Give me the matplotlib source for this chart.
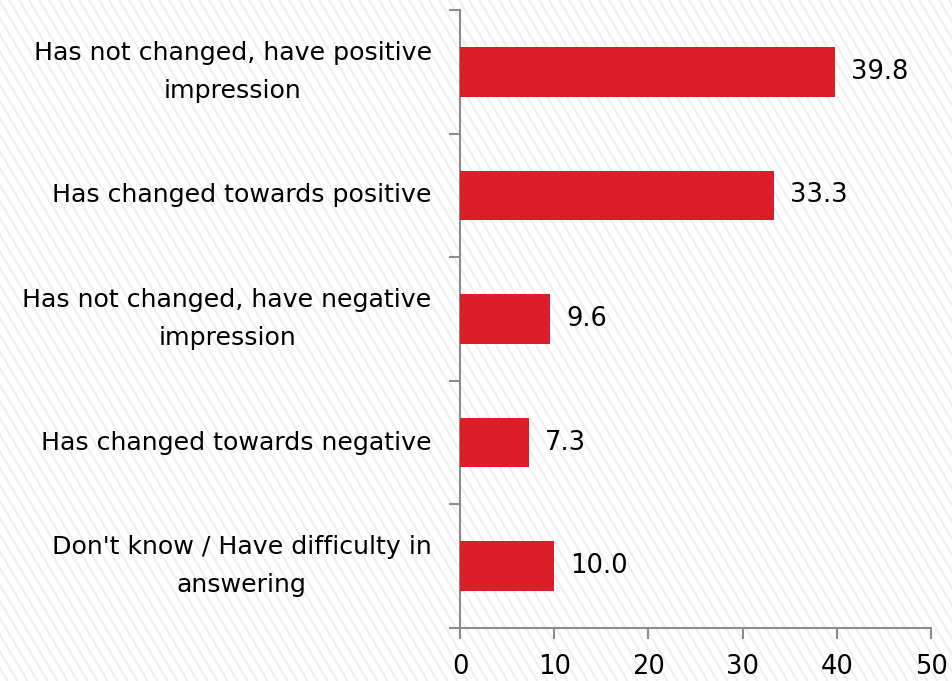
import matplotlib
matplotlib.use("Agg")
import matplotlib.pyplot as plt
import numpy as np

categories = [
    "Has not changed, have positive\nimpression",
    "Has changed towards positive",
    "Has not changed, have negative\nimpression",
    "Has changed towards negative",
    "Don't know / Have difficulty in\nanswering",
]
values = [39.8, 33.3, 9.6, 7.3, 10.0]
xticks = [0, 10, 20, 30, 40, 50]

plt.rcParams['font.family'] = ['DejaVu Sans']

W, H = 952, 681
fig = plt.figure(figsize=(W / 100, H / 100), dpi=100)
fig.patch.set_facecolor("white")

# background diagonal stripes
bg = fig.add_axes([0, 0, 1, 1], zorder=-10)
bg.set_xlim(0, W)
bg.set_ylim(H, 0)
bg.axis("off")
for s in np.arange(-H, W + 20, 10):
    bg.plot([s, s + H * 0.6], [0, H], color="#efefef", lw=1.5, solid_capstyle="butt")

ax = fig.add_axes([460 / W, 1 - 628 / H, (931 - 460) / W, (628 - 10) / H])
ax.patch.set_alpha(0)
n = len(categories)
y = np.arange(n)
ax.barh(y, values, height=0.4, color="#da1f28", zorder=3)
ax.set_ylim(n - 0.5, -0.5)
ax.set_xlim(0, 50)
ax.set_xticks(xticks)
ax.set_xticklabels([str(t) for t in xticks], fontsize=18.5)
ax.set_yticks(np.arange(-0.5, n, 1.0))
ax.set_yticklabels([])
ax.tick_params(axis="y", length=8, color="#8c8c8c", width=1.5, direction="out")
ax.tick_params(axis="x", length=8, color="#8c8c8c", width=1.5, direction="out", pad=11)
for sp in ["top", "right"]:
    ax.spines[sp].set_visible(False)
for sp in ["left", "bottom"]:
    ax.spines[sp].set_color("#8c8c8c")
    ax.spines[sp].set_linewidth(1.5)

for i, (c, v) in enumerate(zip(categories, values)):
    ax.text(-3.0, i, c, ha="right", va="center", multialignment="center",
            fontsize=18.2, linespacing=1.75)
    ax.text(v + 1.7, i, f"{v:.1f}", ha="left", va="center", fontsize=18.5)

fig.savefig("out.png", dpi=100)
